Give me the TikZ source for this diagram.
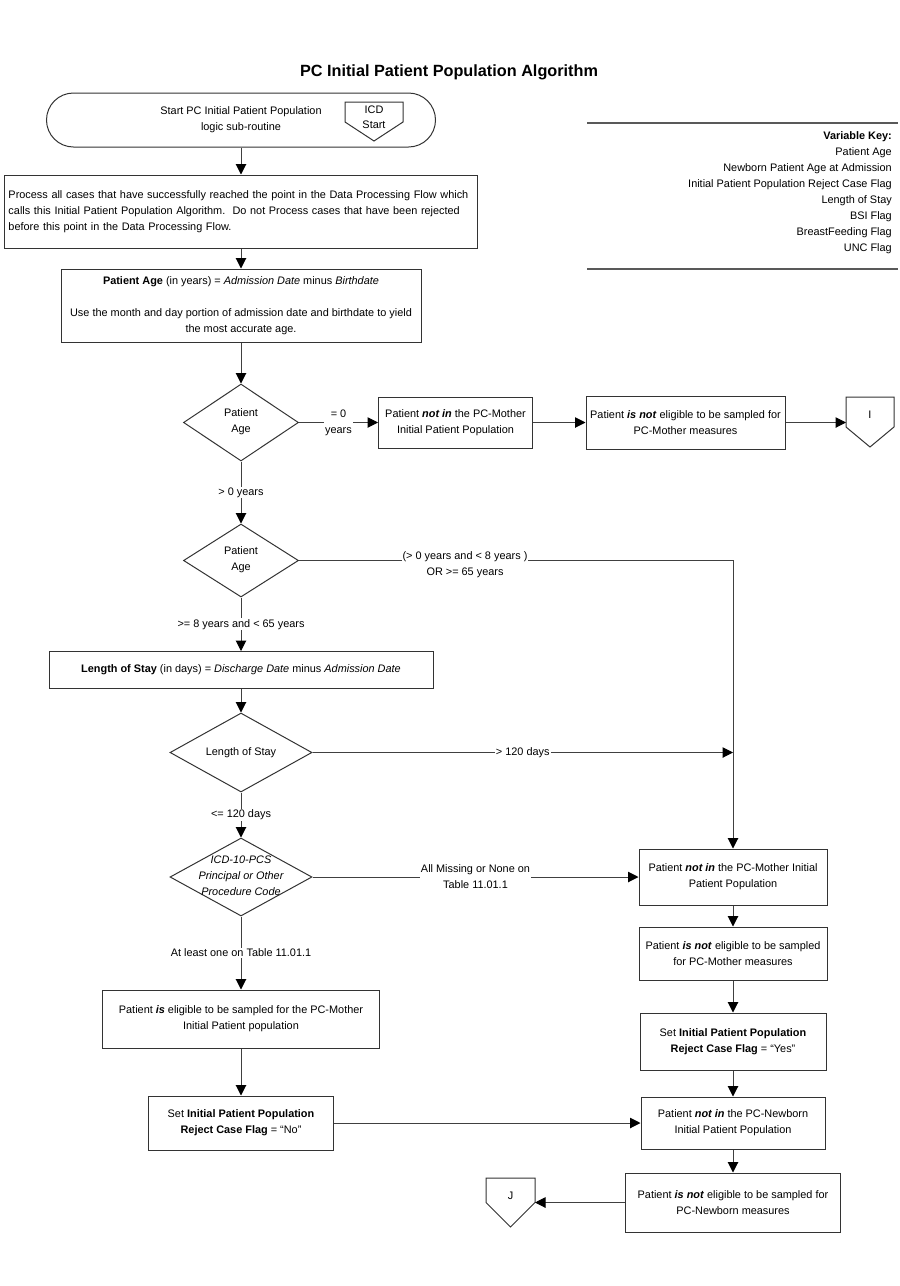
\documentclass[tikz,border=0pt]{standalone}
\usepackage{fontspec}
\setmainfont{Liberation Sans}
\usetikzlibrary{shapes.geometric,arrows.meta}
\begin{document}
\begin{tikzpicture}[x=1pt,y=-1pt,
  every node/.style={font=\fontsize{10.9}{16}\selectfont},
  box/.style={draw=black!80, line width=1pt, align=center, inner sep=0pt},
  dec/.style={draw=black!80, line width=1pt, diamond, inner sep=0pt},
  term/.style={draw=black!80, line width=1pt, rounded corners=27pt, align=center, inner sep=0pt},
  conn/.style={draw=black!80, line width=1pt},
  arr/.style={draw=black!75, line width=1pt, -{Triangle[length=10.5pt,width=10.5pt,color=black]}},
  lbl/.style={fill=white, align=center, inner sep=1pt},
  keyline/.style={draw=black!65, line width=1.6pt},
]
\useasboundingbox (0,0) rectangle (900,1286);

% title
\node[font=\fontsize{16.25}{20}\selectfont\bfseries] (title) at (449,72) {PC Initial Patient Population Algorithm};

% variable key
\draw[keyline] (587,123) -- (898,123);
\draw[keyline] (587,269) -- (898,269);
\node[align=right, anchor=east, inner sep=0pt] (key) at (892,193) {\textbf{Variable Key:}\\Patient Age\\Newborn Patient Age at Admission\\Initial Patient Population Reject Case Flag\\Length of Stay\\BSI Flag\\BreastFeeding Flag\\UNC Flag};

% start terminator
\node[term, minimum width=389pt, minimum height=54pt] (start) at (241,120) {Start PC Initial Patient Population\\logic sub-routine};
\draw[conn] (345,102) -- (403,102) -- (403,122) -- (374,141) -- (345,122) -- cycle;
\node[align=center, font=\fontsize{10.9}{15}\selectfont] (icd) at (374,117) {ICD\\Start};

% process boxes
\node[box, minimum width=473pt, minimum height=73pt, align=left, text width=465pt] (p1) at (241,211.5) {Process all cases that have successfully reached the point in the Data Processing Flow which calls this Initial Patient Population Algorithm.\ \ Do not Process cases that have been rejected before this point in the Data Processing Flow.};
\node[box, minimum width=360pt, minimum height=73pt] (p2) at (241,305.5) {\textbf{Patient Age} (in years) = \textit{Admission Date} minus \textit{Birthdate}\\[16pt]Use the month and day portion of admission date and birthdate to yield\\the most accurate age.};

% decision 1
\node[dec, minimum width=115pt, minimum height=77pt] (d1) at (241,422.5) {};
\node[align=center] (d1t) at ([yshift=1pt]d1) {Patient\\Age};
\node[box, minimum width=154pt, minimum height=51pt] (b3) at (455.5,422.5) {Patient \textbf{\textit{not in}} the PC-Mother\\Initial Patient Population};
\node[box, minimum width=199pt, minimum height=53pt] (b4) at (685.5,422.5) {Patient \textbf{\textit{is not}} eligible to be sampled for\\PC-Mother measures};
\draw[conn] (846,397) -- (894,397) -- (894,427) -- (870,447) -- (846,427) -- cycle;
\node (iconn) at (870,415) {I};
\coordinate (ci) at (846,422.5);

% decision 2
\node[dec, minimum width=115pt, minimum height=73pt] (d2) at (241,560.5) {};
\node[align=center] (d2t) at ([yshift=1pt]d2) {Patient\\Age};

% length of stay box
\node[box, minimum width=384pt, minimum height=37pt] (b5) at (241,670) {\textbf{Length of Stay} (in days) = \textit{Discharge Date} minus \textit{Admission Date}};

% decision 3
\node[dec, minimum width=142pt, minimum height=79pt] (d3) at (241,752.5) {};
\node (d3t) at (d3) {Length of Stay};
\coordinate (j3) at (733,752.5);

% decision 4
\node[dec, minimum width=142pt, minimum height=78pt] (d4) at (241,877) {};
\node[align=center, font=\fontsize{10.9}{16}\selectfont\itshape] (d4t) at ([yshift=1pt]d4) {ICD-10-PCS\\Principal or Other\\Procedure Code};

% right column
\node[box, minimum width=188pt, minimum height=56pt] (b6) at (733,877) {Patient \textbf{\textit{not in}} the PC-Mother Initial\\Patient Population};
\node[box, minimum width=188pt, minimum height=53pt] (b7) at (733,953.5) {Patient \textbf{\textit{is not}} eligible to be sampled\\for PC-Mother measures};
\node[box, minimum width=186pt, minimum height=57pt] (b8) at (733,1041.5) {Set \textbf{Initial Patient Population}\\\textbf{Reject Case Flag} = “Yes”};
\node[box, minimum width=184pt, minimum height=52pt] (b9) at (733,1123) {Patient \textbf{\textit{not in}} the PC-Newborn\\Initial Patient Population};
\node[box, minimum width=215pt, minimum height=59pt] (b10) at (733,1202.5) {Patient \textbf{\textit{is not}} eligible to be sampled for\\PC-Newborn measures};

% left column bottom
\node[box, minimum width=277pt, minimum height=58pt] (b11) at (241,1019) {Patient \textbf{\textit{is}} eligible to be sampled for the PC-Mother\\Initial Patient population};
\node[box, minimum width=185pt, minimum height=54pt] (b12) at (241,1123) {Set \textbf{Initial Patient Population}\\\textbf{Reject Case Flag} = “No”};

% J connector
\draw[conn] (486,1178) -- (535,1178) -- (535,1202.5) -- (510.5,1227) -- (486,1202.5) -- cycle;
\node (jconn) at (510.5,1196) {J};
\coordinate (cj) at (535,1202.5);

% connectors
\draw[arr] (start.south) -- (p1.north);
\draw[arr] (p1.south) -- (p2.north);
\draw[arr] (p2.south) -- (d1.north);
\draw[arr] (d1.east) -- node[lbl] {= 0\\years} (b3.west);
\draw[arr] (b3.east) -- (b4.west);
\draw[arr] (b4.east) -- (ci);
\draw[arr] (d1.south) -- node[lbl] {> 0 years} (d2.north);
\draw[arr] (d2.east) -- (d2.east -| b6.north) -- (b6.north);
\node[lbl] (l2) at (465,565) {(> 0 years and < 8 years )\\OR >= 65 years};
\draw[arr] (d2.south) -- node[lbl] {>= 8 years and < 65 years} (b5.north);
\draw[arr] (b5.south) -- (d3.north);
\draw[arr] (d3.east) -- node[lbl] {> 120 days} (j3);
\draw[arr] (d3.south) -- node[lbl] {<= 120 days} (d4.north);
\draw[arr] (d4.east) -- node[lbl] {All Missing or None on\\Table 11.01.1} (b6.west);
\draw[arr] (d4.south) -- node[lbl] {At least one on Table 11.01.1} (b11.north);
\draw[arr] (b11.south) -- (b12.north);
\draw[arr] (b12.east) -- (b9.west);
\draw[arr] (b6.south) -- (b7.north);
\draw[arr] (b7.south) -- (b8.north);
\draw[arr] (b8.south) -- (b9.north);
\draw[arr] (b9.south) -- (b10.north);
\draw[arr] (b10.west) -- (cj);
\end{tikzpicture}
\end{document}
